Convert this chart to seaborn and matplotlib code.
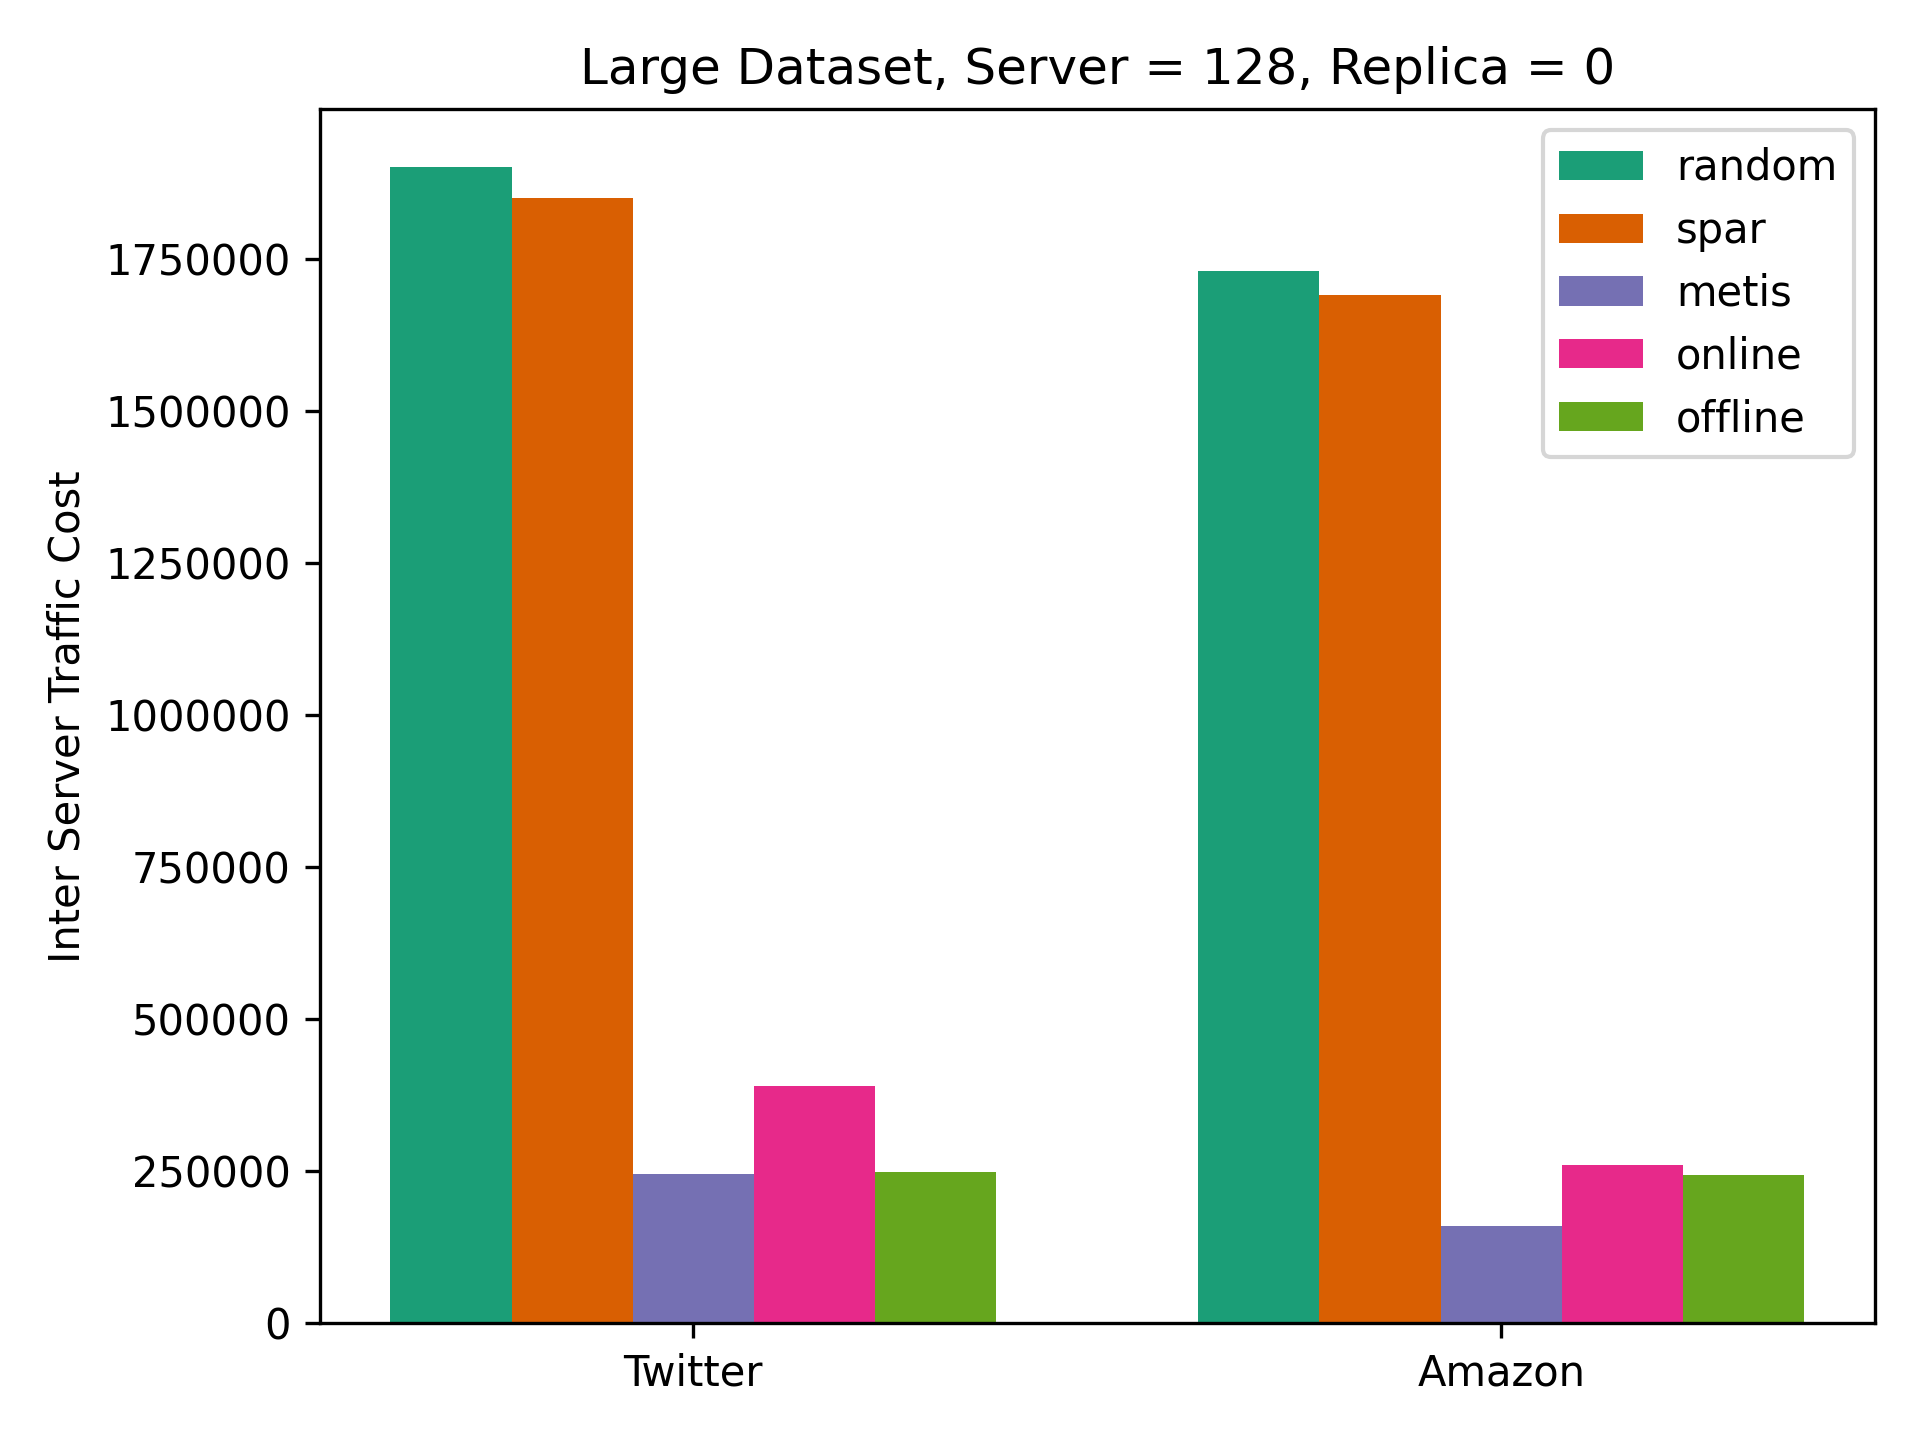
import matplotlib
matplotlib.use("Agg")
import matplotlib.pyplot as plt
import seaborn as sns
import pandas as pd

datasets = ["Twitter", "Amazon"]
methods = ["random", "spar", "metis", "online", "offline"]
twitter_vals = [1900000, 1850000, 246000, 390000, 249000]
amazon_vals = [1729000, 1690000, 160500, 261000, 244000]

rows = []
for m, v in zip(methods, twitter_vals):
    rows.append({"dataset": "Twitter", "method": m, "cost": v})
for m, v in zip(methods, amazon_vals):
    rows.append({"dataset": "Amazon", "method": m, "cost": v})
df = pd.DataFrame(rows)

fig, ax = plt.subplots(figsize=(6.4, 4.8), dpi=300)
palette = sns.color_palette("Dark2", 5)
sns.barplot(data=df, x="dataset", y="cost", hue="method", order=datasets,
            hue_order=methods, palette=palette, width=0.75, linewidth=0,
            errorbar=None, saturation=1, ax=ax)

ax.set_xlim(-0.4625, 1.4625)
ax.set_ylim(0, 1995000)
ax.set_yticks([0, 250000, 500000, 750000, 1000000, 1250000, 1500000, 1750000])
ax.ticklabel_format(style="plain", axis="y")
ax.set_xlabel("")
ax.set_ylabel("Inter Server Traffic Cost")
ax.set_title("Large Dataset, Server = 128, Replica = 0")
handles, labels = ax.get_legend_handles_labels()
ax.legend(handles, labels, loc="upper right")
for s in ax.spines.values():
    s.set_visible(True)
    s.set_color("black")
fig.subplots_adjust(left=0.1665, right=0.9765, top=0.924, bottom=0.081)
fig.savefig("out.png", dpi=300)
